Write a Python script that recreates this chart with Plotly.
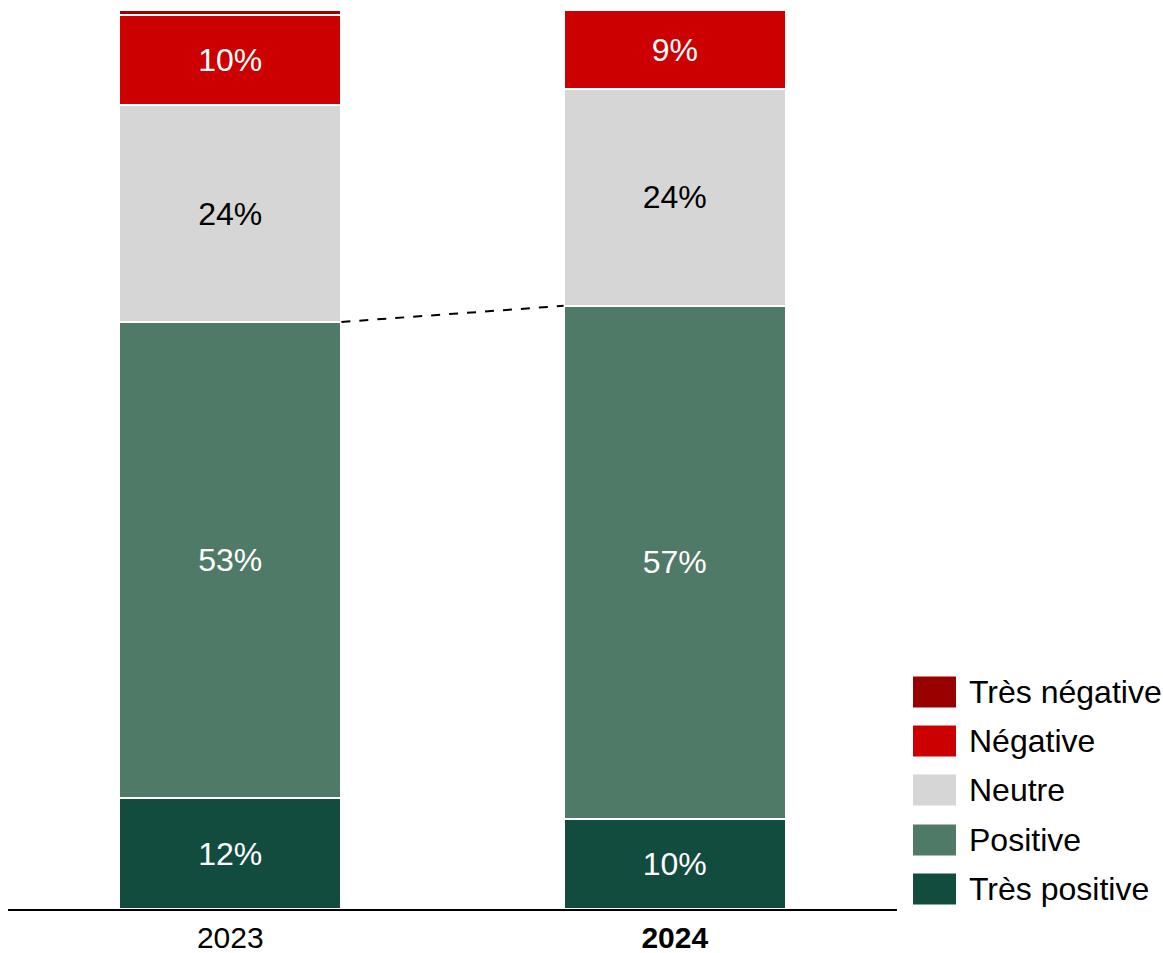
import plotly.graph_objects as go

years = ["2023", "2024"]
tick_labels = ["2023", "<b>2024</b>"]
categories = ["Très positive", "Positive", "Neutre", "Négative", "Très négative"]
tres_positive = [12.3, 10.0]
positive = [53.0, 57.1]
neutre = [24.1, 24.1]
negative = [10.0, 8.8]
tres_negative = [0.6, 0.0]
series = [tres_positive, positive, neutre, negative, tres_negative]
colors = ["#124c3f", "#507a68", "#d6d6d6", "#cc0000", "#990000"]
text_colors = ["white", "white", "black", "white", "white"]

FONT = "Liberation Sans, Arial, sans-serif"
FS = 32
W, H = 1163, 953
ML, MR, MT, MB = 8, 266, 10, 44
BAR_W = 0.5
x_pos = [0, 1]

fig = go.Figure()
for name, vals, col, tc in zip(categories, series, colors, text_colors):
    texts = [f"{v:.0f}%" if v >= 3 else "" for v in vals]
    fig.add_trace(go.Bar(
        x=x_pos, y=vals, name=name, width=BAR_W,
        marker=dict(color=col, line=dict(color="white", width=2)),
        text=texts, textposition="inside", insidetextanchor="middle",
        textangle=0,
        textfont=dict(color=tc, size=FS, family=FONT),
        showlegend=False, hoverinfo="skip",
    ))

# dashed connector between tops of "Positive" segments
top_pos = [a + b for a, b in zip(tres_positive, positive)]
fig.add_trace(go.Scatter(
    x=[x_pos[0] + BAR_W / 2, x_pos[1] - BAR_W / 2], y=top_pos,
    mode="lines", line=dict(color="black", width=2, dash="dash"),
    showlegend=False, hoverinfo="skip",
))

# custom legend (large square swatches); positions given in screen pixels
plot_w = W - ML - MR
plot_h = H - MT - MB
def px_x(p):
    return (p - ML) / plot_w
def px_y(p):
    return (H - MB - p) / plot_h

legend_centers = [692, 741, 790, 840, 889]
for name, col, cy in zip(categories[::-1], colors[::-1], legend_centers):
    fig.add_shape(type="rect", xref="paper", yref="paper",
                  x0=px_x(913), x1=px_x(956), y0=px_y(cy + 15.5), y1=px_y(cy - 15.5),
                  fillcolor=col, line=dict(width=0))
    fig.add_annotation(xref="paper", yref="paper", x=px_x(967), y=px_y(cy),
                       text=name, showarrow=False, xanchor="left", yanchor="middle",
                       font=dict(size=FS, color="black", family=FONT))

fig.update_layout(
    barmode="stack", width=W, height=H,
    margin=dict(l=ML, r=MR, t=MT, b=MB, autoexpand=False),
    plot_bgcolor="white", paper_bgcolor="white",
    font=dict(family=FONT, color="black"),
    xaxis=dict(range=[-0.5, 1.5], tickvals=x_pos, ticktext=tick_labels,
               showline=True, linecolor="black", linewidth=2, showgrid=False,
               zeroline=False, ticks="", tickfont=dict(size=30, color="black"),
               ticklabelstandoff=1,
               automargin=False, fixedrange=True),
    yaxis=dict(range=[0, 100], visible=False, showgrid=False, zeroline=False,
               automargin=False, fixedrange=True),
    uniformtext=dict(mode=False),
)

fig.write_html(
    "out.html",
    config={"displayModeBar": False, "staticPlot": True},
    post_script="document.body.style.margin='0';document.body.style.overflow='hidden';",
)
